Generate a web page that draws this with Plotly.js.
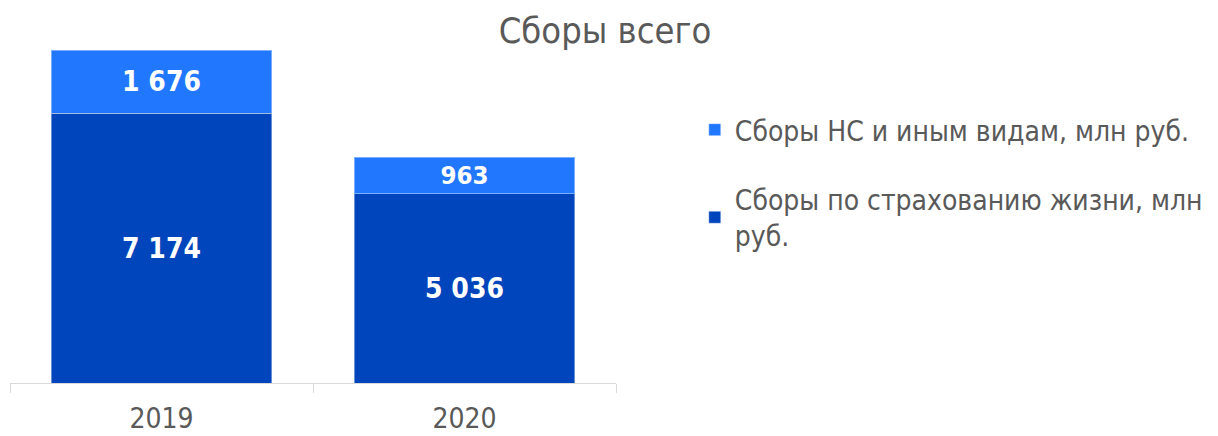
<!DOCTYPE html>
<html>
<head>
<meta charset="utf-8">
<script src="https://cdn.plot.ly/plotly-3.0.1.min.js"></script>
<style>
  body { margin: 0; background: #fff; }
  #chart { width: 1218px; height: 436px; }
</style>
</head>
<body>
<div id="chart"></div>
<script>
var years = ["2019", "2020"];
var lifeValues = [7174, 5036];
var otherValues = [1676, 963];
var lifeName = "Сборы по страхованию жизни, млн<br>руб.";
var otherName = "Сборы НС и иным видам, млн руб.";

var font = "'DejaVu Sans Condensed', 'DejaVu Sans', sans-serif";

var lifeTrace = {
    x: years,
    y: lifeValues,
    name: lifeName,
    type: "bar",
    legendgroup: "life",
    legendrank: 2,
    marker: {color: "#0045BB", line: {color: "rgba(255,255,255,0.4)", width: 1}},
    texttemplate: "%{y:,}",
    textposition: "inside",
    insidetextanchor: "middle",
    textfont: {color: "#ffffff", size: 28, family: font, weight: "bold"},
    hoverinfo: "none"
};

var otherTrace = {
    x: years,
    y: otherValues,
    name: otherName,
    type: "bar",
    legendgroup: "other",
    legendrank: 1,
    marker: {color: "#2277FF", line: {color: "rgba(255,255,255,0.4)", width: 1}},
    texttemplate: "%{y:,}",
    textposition: "inside",
    insidetextanchor: "middle",
    textfont: {color: "#ffffff", size: 28, family: font, weight: "bold"},
    hoverinfo: "none"
};

var layout = {
    width: 1218,
    height: 436,
    margin: {l: 10, r: 598, t: 50, b: 53},
    paper_bgcolor: "#ffffff",
    plot_bgcolor: "#ffffff",
    separators: ", ",
    barmode: "stack",
    bargap: 0.273,
    font: {family: font, color: "#595959"},
    title: {
        text: "Сборы всего",
        font: {size: 36, color: "#595959", family: font},
        x: 605 / 1218,
        xanchor: "center",
        y: 1 - 30 / 436,
        yanchor: "middle",
        yref: "container"
    },
    xaxis: {
        type: "category",
        range: [-0.5, 1.5],
        showline: true,
        linecolor: "#d9d9d9",
        linewidth: 1,
        ticks: "outside",
        tickson: "boundaries",
        ticklen: 9,
        tickcolor: "#d9d9d9",
        tickfont: {size: 28, color: "#595959", family: font},
        ticklabelstandoff: 10,
        showgrid: false,
        zeroline: false,
        fixedrange: true
    },
    yaxis: {
        range: [0, 8850],
        visible: false,
        showgrid: false,
        zeroline: false,
        fixedrange: true
    },
    showlegend: true,
    legend: {
        x: 1.13,
        xanchor: "left",
        y: 0.835,
        yanchor: "top",
        traceorder: "grouped",
        tracegroupgap: 30,
        font: {size: 28, color: "#595959", family: font},
        bgcolor: "rgba(0,0,0,0)"
    }
};

Plotly.newPlot("chart", [lifeTrace, otherTrace], layout, {displayModeBar: false, staticPlot: true});
</script>
</body>
</html>
